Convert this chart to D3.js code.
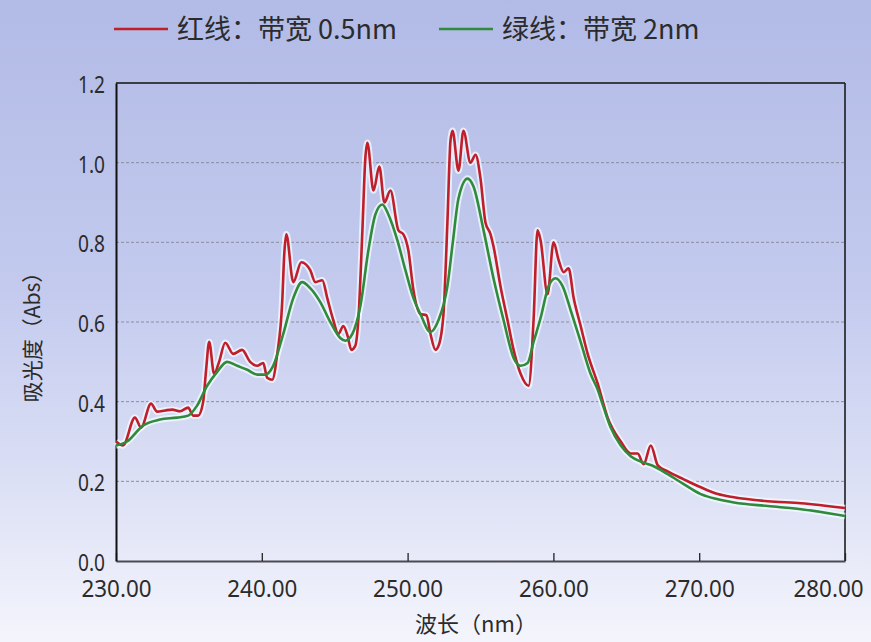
<!DOCTYPE html>
<html>
<head>
<meta charset="utf-8">
<script src="https://cdn.jsdelivr.net/npm/d3@7"></script>
<style>
  html, body { margin: 0; padding: 0; background: #ffffff; }
  svg { display: block; }
  .tick-label { font-family: "Noto Sans", "DejaVu Sans", sans-serif; fill: #2b2b2b; }
  .cjk { font-family: "Noto Sans CJK SC", "Noto Sans", sans-serif; fill: #2b2b2b; }
</style>
</head>
<body>
<svg id="chart" width="871" height="642"></svg>
<script>
// ---------- data ----------
const seriesNames = ["红线：带宽 0.5nm", "绿线：带宽 2nm"];
const xTicks = [230, 240, 250, 260, 270, 280];
const yTicks = [0.0, 0.2, 0.4, 0.6, 0.8, 1.0, 1.2];

const redNm  = [230.0, 230.48, 231.3, 231.72, 232.4, 232.82, 233.37, 233.85, 234.4, 234.95, 235.29, 235.63, 235.98, 236.18, 236.39, 236.73, 237.07, 237.49, 238.04, 238.65, 239.2, 239.68, 240.1, 240.37, 240.71, 241.06, 241.4, 241.54, 241.68, 242.16, 242.71, 243.32, 243.67, 244.15, 244.49, 244.9, 245.25, 245.59, 245.87, 246.14, 246.41, 246.62, 246.9, 247.1, 247.24, 247.66, 248.06, 248.41, 248.82, 249.37, 249.71, 250.05, 250.4, 250.88, 251.29, 251.57, 251.91, 252.12, 252.46, 252.73, 252.94, 253.08, 253.49, 253.83, 254.31, 254.66, 255.0, 255.34, 255.69, 255.89, 256.37, 256.85, 257.27, 257.75, 258.3, 258.64, 258.91, 259.12, 259.6, 260.01, 260.36, 260.7, 261.04, 261.39, 261.87, 262.35, 263.04, 263.72, 264.62, 265.3, 265.78, 266.19, 266.68, 267.16, 267.84, 268.94, 270.11, 271.28, 272.38, 274.71, 276.98, 280.0];
const redAbs = [0.30, 0.29, 0.36, 0.335, 0.395, 0.375, 0.378, 0.38, 0.376, 0.385, 0.365, 0.365, 0.40, 0.48, 0.55, 0.47, 0.50, 0.548, 0.52, 0.53, 0.50, 0.49, 0.497, 0.46, 0.455, 0.52, 0.65, 0.77, 0.82, 0.70, 0.75, 0.73, 0.70, 0.705, 0.66, 0.605, 0.57, 0.59, 0.567, 0.53, 0.54, 0.605, 0.83, 1.01, 1.05, 0.93, 0.99, 0.90, 0.93, 0.83, 0.82, 0.78, 0.68, 0.62, 0.617, 0.57, 0.53, 0.54, 0.62, 0.85, 1.055, 1.08, 0.98, 1.08, 1.00, 1.02, 0.96, 0.85, 0.82, 0.79, 0.69, 0.605, 0.53, 0.47, 0.44, 0.605, 0.83, 0.805, 0.67, 0.80, 0.755, 0.725, 0.735, 0.66, 0.59, 0.52, 0.445, 0.36, 0.30, 0.27, 0.27, 0.243, 0.29, 0.24, 0.225, 0.205, 0.185, 0.168, 0.16, 0.15, 0.145, 0.133];

const greenNm  = [230.0, 230.76, 231.85, 233.02, 234.19, 234.95, 235.56, 236.25, 236.94, 237.62, 238.31, 239.0, 239.68, 240.23, 240.78, 241.47, 242.16, 242.77, 243.32, 244.01, 244.7, 245.38, 245.73, 246.21, 246.76, 247.31, 247.79, 248.27, 248.68, 249.3, 249.85, 250.4, 250.88, 251.57, 252.12, 252.73, 253.1, 253.49, 254.11, 254.52, 255.21, 255.89, 256.58, 257.27, 257.75, 258.23, 258.64, 259.12, 259.67, 260.15, 260.63, 261.18, 261.87, 262.55, 263.04, 263.45, 263.93, 264.62, 265.3, 266.19, 266.88, 267.84, 268.94, 270.11, 271.28, 272.38, 274.71, 276.98, 280.0];
const greenAbs = [0.29, 0.30, 0.34, 0.355, 0.36, 0.365, 0.39, 0.44, 0.475, 0.50, 0.49, 0.48, 0.468, 0.468, 0.49, 0.57, 0.66, 0.70, 0.685, 0.65, 0.60, 0.56, 0.553, 0.57, 0.64, 0.78, 0.87, 0.895, 0.87, 0.805, 0.73, 0.66, 0.62, 0.575, 0.605, 0.69, 0.80, 0.91, 0.96, 0.94, 0.83, 0.71, 0.605, 0.51, 0.49, 0.497, 0.55, 0.61, 0.69, 0.71, 0.69, 0.63, 0.55, 0.47, 0.43, 0.385, 0.335, 0.29, 0.263, 0.247, 0.238, 0.218, 0.193, 0.168, 0.155, 0.147, 0.138, 0.13, 0.113];

const redColor = "#bf1e2a";
const greenColor = "#2f8a3c";

// ---------- layout ----------
const W = 871, H = 642;
const m = { left: 116, right: 26, top: 83, bottom: 81 };
const svg = d3.select("#chart");

// background gradient
const defs = svg.append("defs");
const grad = defs.append("linearGradient").attr("id", "bg").attr("x1", 0).attr("y1", 0).attr("x2", 0).attr("y2", 1);
[[0, "#b2bbe6"], [0.45, "#c3caee"], [0.75, "#dce0f5"], [1, "#f4f5fc"]].forEach(([o, c]) =>
  grad.append("stop").attr("offset", o).attr("stop-color", c));
svg.append("rect").attr("width", W).attr("height", H).attr("fill", "url(#bg)");

const x = d3.scaleLinear().domain([230, 280]).range([m.left, W - m.right]);
const y = d3.scaleLinear().domain([0, 1.2]).range([H - m.bottom, m.top]);

// grid lines
svg.append("g").selectAll("line").data(yTicks.filter(v => v > 0 && v < 1.2)).join("line")
  .attr("x1", x(230)).attr("x2", x(280))
  .attr("y1", d => y(d)).attr("y2", d => y(d))
  .attr("stroke", "#8a8d9c").attr("stroke-width", 1).attr("stroke-dasharray", "3,2");

// frame
svg.append("line").attr("x1", x(230)).attr("x2", x(280)).attr("y1", y(1.2)).attr("y2", y(1.2)).attr("stroke", "#111").attr("stroke-width", 1.5);
svg.append("line").attr("x1", x(280)).attr("x2", x(280)).attr("y1", y(1.2)).attr("y2", y(0)).attr("stroke", "#111").attr("stroke-width", 1.5);

// x axis
const xAxis = d3.axisBottom(x).tickValues(xTicks).tickSizeInner(-8).tickSizeOuter(0).tickFormat(d3.format(".2f")).tickPadding(19);
const gx = svg.append("g").attr("transform", `translate(0,${y(0)})`).call(xAxis);
gx.select(".domain").attr("stroke", "#4a4a55").attr("stroke-width", 2);
gx.selectAll(".tick line").attr("stroke", "#222").attr("stroke-width", 1.3);
gx.selectAll(".tick text").attr("class", "tick-label").attr("font-size", 24).attr("dy", "0.71em")
  .attr("textLength", 70).attr("lengthAdjust", "spacingAndGlyphs");
// last label kept inside the picture
gx.selectAll(".tick text").filter(d => d === 280).attr("text-anchor", "end").attr("x", 863 - x(280));

// y axis
const yAxis = d3.axisLeft(y).tickValues(yTicks).tickSize(0).tickFormat(d3.format(".1f")).tickPadding(11);
const gy = svg.append("g").attr("transform", `translate(${x(230)},0)`).call(yAxis);
gy.select(".domain").attr("stroke", "#111").attr("stroke-width", 2);
gy.selectAll(".tick text").attr("class", "tick-label").attr("font-size", 24).attr("dy", "0.40em")
  .attr("textLength", 27).attr("lengthAdjust", "spacingAndGlyphs");

// lines
const lineGen = d3.line().x(d => x(d[0])).y(d => y(d[1])).curve(d3.curveMonotoneX);
const redData = redNm.map((v, i) => [v, redAbs[i]]);
const greenData = greenNm.map((v, i) => [v, greenAbs[i]]);

[redData, greenData].forEach(data => {
  svg.append("path").datum(data).attr("d", lineGen).attr("fill", "none")
    .attr("stroke", "#f4fbff").attr("stroke-opacity", 0.75).attr("stroke-width", 6.5).attr("stroke-linejoin", "round");
});
svg.append("path").datum(redData).attr("d", lineGen).attr("fill", "none")
  .attr("stroke", redColor).attr("stroke-width", 2.6).attr("stroke-linejoin", "round");
svg.append("path").datum(greenData).attr("d", lineGen).attr("fill", "none")
  .attr("stroke", greenColor).attr("stroke-width", 2.6).attr("stroke-linejoin", "round");

// legend
const legend = [
  { name: seriesNames[0], color: redColor, x0: 114 },
  { name: seriesNames[1], color: greenColor, x0: 439 }
];
legend.forEach(l => {
  svg.append("line").attr("x1", l.x0).attr("x2", l.x0 + 54).attr("y1", 29).attr("y2", 29)
    .attr("stroke", l.color).attr("stroke-width", 2.6);
  svg.append("text").attr("class", "cjk").attr("x", l.x0 + 63).attr("y", 29).attr("dy", "0.36em")
    .attr("font-size", 27).text(l.name);
});

// axis titles
svg.append("text").attr("class", "cjk").attr("x", 476).attr("y", 632).attr("text-anchor", "middle")
  .attr("font-size", 22).text("波长（nm）");
svg.append("text").attr("class", "cjk").attr("transform", "translate(32,332) rotate(-90)")
  .attr("text-anchor", "middle").attr("dy", "0.36em").attr("font-size", 21).text("吸光度（Abs）");
</script>
</body>
</html>
